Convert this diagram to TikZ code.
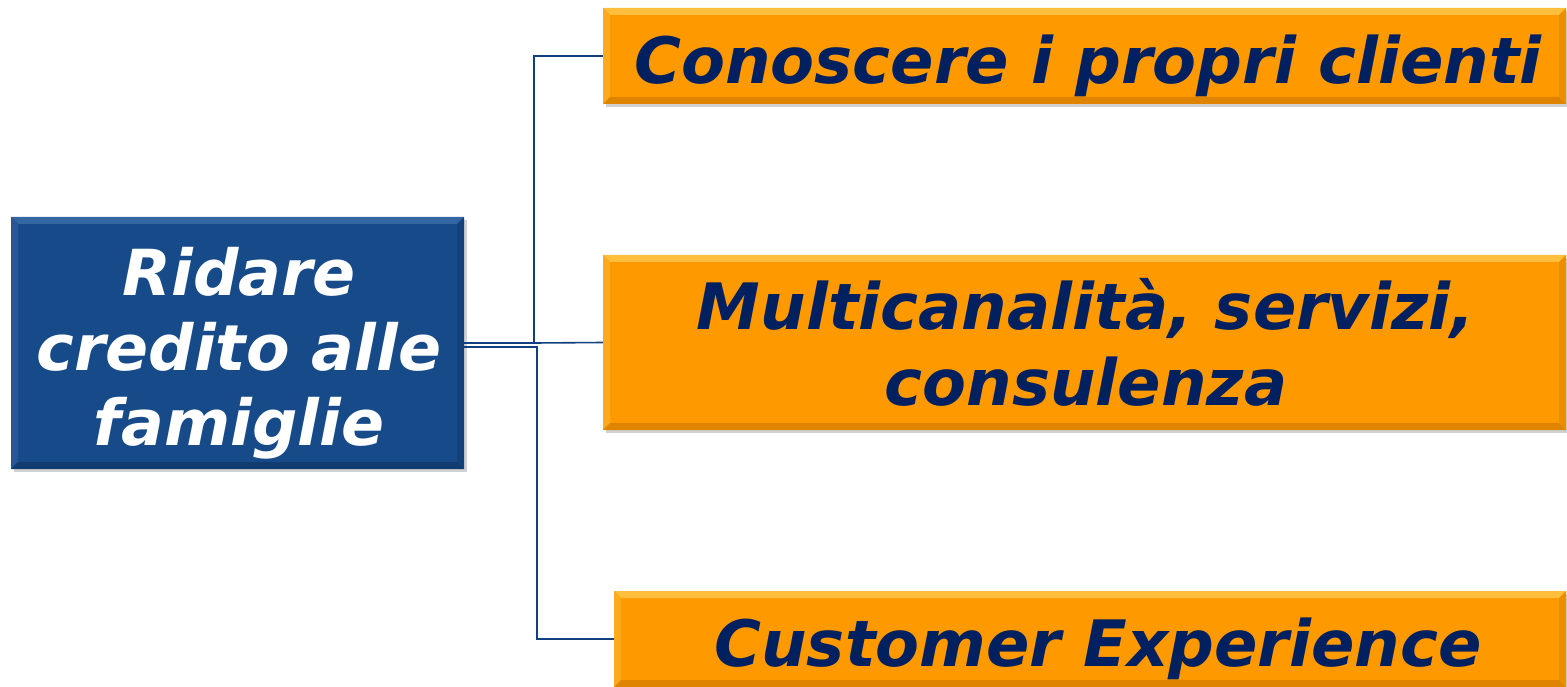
\documentclass[tikz,border=0pt]{standalone}
\usepackage{fontspec}
\setmainfont{DejaVu Sans}
\usetikzlibrary{shadows}
\definecolor{boxorange}{HTML}{FF9900}
\definecolor{orangelight}{HTML}{FFBE3C}
\definecolor{orangedark}{HTML}{DE8400}
\definecolor{boxblue}{HTML}{164A89}
\definecolor{bluelight}{HTML}{3466A3}
\definecolor{bluedark}{HTML}{103C70}
\definecolor{navytext}{HTML}{002060}
\definecolor{linkblue}{HTML}{123F7E}
\tikzset{
  bevelbox/.style n args={3}{rectangle, inner sep=0pt, fill=#1,
    drop shadow={shadow xshift=3pt, shadow yshift=-3pt, opacity=0.3, fill=black!60},
    path picture={
      \fill[#2] (path picture bounding box.north west) -- (path picture bounding box.north east)
        -- ([xshift=-7pt,yshift=-7pt]path picture bounding box.north east)
        -- ([xshift=7pt,yshift=-7pt]path picture bounding box.north west) -- cycle;
      \fill[#2!45!#1] (path picture bounding box.north west) -- (path picture bounding box.south west)
        -- ([xshift=7pt,yshift=7pt]path picture bounding box.south west)
        -- ([xshift=7pt,yshift=-7pt]path picture bounding box.north west) -- cycle;
      \fill[#3] (path picture bounding box.south west) -- (path picture bounding box.south east)
        -- ([xshift=-7pt,yshift=7pt]path picture bounding box.south east)
        -- ([xshift=7pt,yshift=7pt]path picture bounding box.south west) -- cycle;
      \fill[#3!55!#1] (path picture bounding box.north east) -- (path picture bounding box.south east)
        -- ([xshift=-7pt,yshift=7pt]path picture bounding box.south east)
        -- ([xshift=-7pt,yshift=-7pt]path picture bounding box.north east) -- cycle;
    }},
  orangebox/.style={bevelbox={boxorange}{orangelight}{orangedark}},
  bluebox/.style={bevelbox={boxblue}{bluelight}{bluedark}},
  orangetext/.style={text=navytext, inner sep=0pt, anchor=base,
    font=\fontsize{64}{75}\selectfont\bfseries\itshape},
  bluetext/.style={text=white, inner sep=0pt, anchor=base,
    font=\fontsize{63.5}{75}\selectfont\bfseries\itshape},
  link/.style={draw=linkblue, line width=1.6pt}
}
\begin{document}
\begin{tikzpicture}[x=1pt,y=-1pt]
\useasboundingbox (0,0) rectangle (1567,687);
\node[bluebox, minimum width=453pt, minimum height=252pt] (main) at (237.5,343) {};
\node[orangebox, minimum width=963pt, minimum height=96pt] (c1) at (1084.5,56) {};
\node[orangebox, minimum width=963pt, minimum height=175pt] (c2) at (1084.5,342.5) {};
\node[orangebox, minimum width=952pt, minimum height=96pt] (c3) at (1090,639) {};
\node[bluetext] (m1) at (239,295) {Ridare};
\node[bluetext] (m2) at (239,370) {credito alle};
\node[bluetext] (m3) at (239,445) {famiglie};
\node[orangetext] (t1) at (1088,84) {Conoscere i propri clienti};
\node[orangetext] (t2a) at (1086,330) {Multicanalità, servizi,};
\node[orangetext] (t2b) at (1086,405) {consulenza};
\node[orangetext] (t3) at (1098,666) {Customer Experience};
\draw[link] (main.east) -- ++(70,0) coordinate (j1) |- (c1.west);
\draw[link] (c2.west) -- (j1);
\draw[link] ([yshift=-4pt]main.east) -- ++(73,0) |- (c3.west);
\end{tikzpicture}
\end{document}
